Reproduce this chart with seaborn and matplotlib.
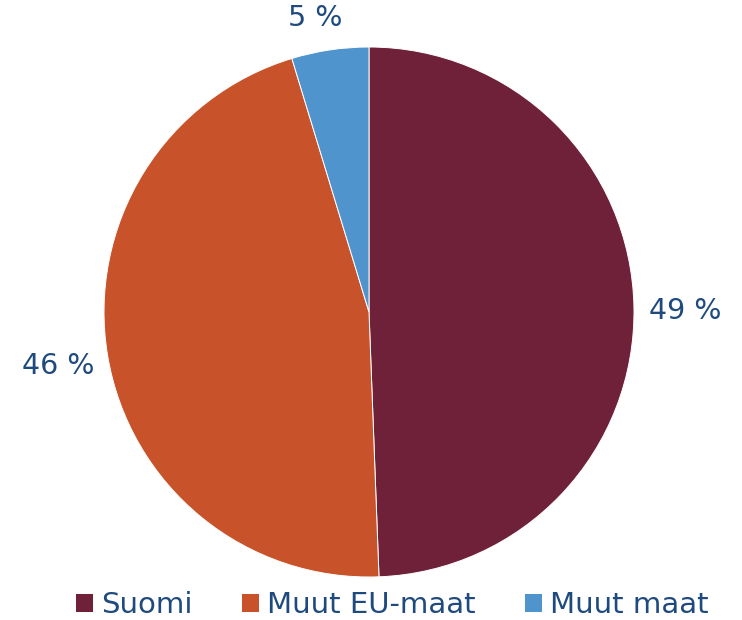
import numpy as np
import matplotlib
matplotlib.use('Agg')
import matplotlib.pyplot as plt
import matplotlib.transforms as mtransforms
import seaborn as sns

sns.set_theme(style='white')
plt.rcParams['font.family'] = ['DejaVu Sans']

categories = ['Suomi', 'Muut EU-maat', 'Muut maat']
shares = [49.4, 45.9, 4.7]
labels = ['49 %', '46 %', '5 %']
colors = ['#6E2139', '#C8522A', '#4F94CD']
txt = '#1F4A7E'

fig = plt.figure(figsize=(7.42, 6.2), dpi=100)
# pie centre ~ (369,312) px, radius ~265 px
cx, cy, r = 369 / 742, 1 - 312 / 620, 265
ax = fig.add_axes([cx - r / 742, cy - r / 620, 2 * r / 742, 2 * r / 620])

wedges, _ = ax.pie(shares, colors=colors, startangle=90, counterclock=False,
                   wedgeprops=dict(edgecolor='white', linewidth=0.7))
ax.set_xlim(-1, 1)
ax.set_ylim(-1, 1)
ax.set_aspect('auto')

# label distance and small nudges (points) per slice
dist = [1.19, 1.19, 1.12]
nudge = [(1, -3.5), (0, -1), (-7, 0)]
for w, lab, d, (dx, dy) in zip(wedges, labels, dist, nudge):
    ang = np.deg2rad((w.theta1 + w.theta2) / 2)
    tr = ax.transData + mtransforms.ScaledTranslation(dx / 72, dy / 72, fig.dpi_scale_trans)
    ax.text(d * np.cos(ang), d * np.sin(ang), lab, ha='center', va='center',
            fontsize=20.5, color=txt, clip_on=False, transform=tr)

leg = fig.legend(wedges, categories, loc='lower center', ncol=3, frameon=False,
                 bbox_to_anchor=(0.528, -0.04), fontsize=21, handlelength=0.62,
                 handleheight=0.62, handletextpad=0.28, columnspacing=1.65)
for t in leg.get_texts():
    t.set_color(txt)

fig.savefig('out.png', dpi=100)
